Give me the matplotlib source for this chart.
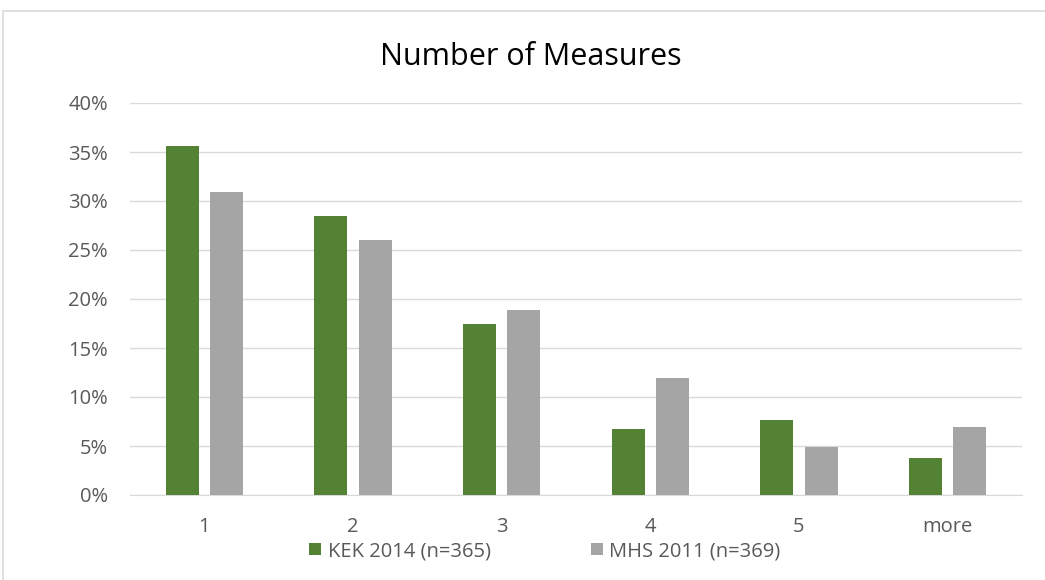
import matplotlib
matplotlib.use("Agg")
import matplotlib.pyplot as plt
import numpy as np
from matplotlib.patches import Rectangle
from matplotlib.ticker import FuncFormatter

# data (percent)
categories = ["1", "2", "3", "4", "5", "more"]
kek_2014 = [35.6, 28.5, 17.4, 6.7, 7.7, 3.8]
mhs_2011 = [30.9, 26.0, 18.9, 11.9, 4.9, 6.9]
series_labels = ["KEK 2014 (n=365)", "MHS 2011 (n=369)"]

plt.rcParams["font.family"] = ["Open Sans", "DejaVu Sans"]
text_col = "#595959"

fig = plt.figure(figsize=(10.45, 5.8), dpi=100)
# outer chart border (light grey)
fig.patches.append(Rectangle((3 / 1045, -0.01), 1.1, 1 - 11 / 580 + 0.01,
                             transform=fig.transFigure, fill=False,
                             edgecolor="#D9D9D9", linewidth=1.2))

ax = fig.add_axes([130 / 1045, 1 - 495 / 580, 892 / 1045, 392 / 580])

x = np.arange(len(categories))
w = 0.222
off = 0.148
ax.bar(x - off, kek_2014, w, color="#548235", label=series_labels[0], zorder=3)
ax.bar(x + off, mhs_2011, w, color="#A5A5A5", label=series_labels[1], zorder=3)

ax.set_xlim(-0.5, len(categories) - 0.5)
ax.set_ylim(0, 40)
ax.set_yticks(np.arange(0, 41, 5))
ax.yaxis.set_major_formatter(FuncFormatter(lambda v, p: f"{v:.0f}%"))
ax.set_xticks(x)
ax.set_xticklabels(categories)
ax.grid(axis="y", color="#D9D9D9", linewidth=1, zorder=0)
for s in ["top", "right", "left"]:
    ax.spines[s].set_visible(False)
ax.spines["bottom"].set_color("#D9D9D9")
ax.tick_params(axis="both", length=0, labelsize=14.5, colors=text_col)
ax.tick_params(axis="y", pad=16)
ax.tick_params(axis="x", pad=16)

fig.text(531 / 1045, 1 - 57 / 580, "Number of Measures", ha="center", va="center",
         fontsize=22, color="black")

fig.legend(loc="center", bbox_to_anchor=(545 / 1045, 1 - 551 / 580), ncol=2,
           frameon=False, fontsize=14.5, labelcolor=text_col,
           handlelength=0.6, handleheight=0.6, handletextpad=0.3,
           columnspacing=5)

fig.savefig("out.png", dpi=100)
